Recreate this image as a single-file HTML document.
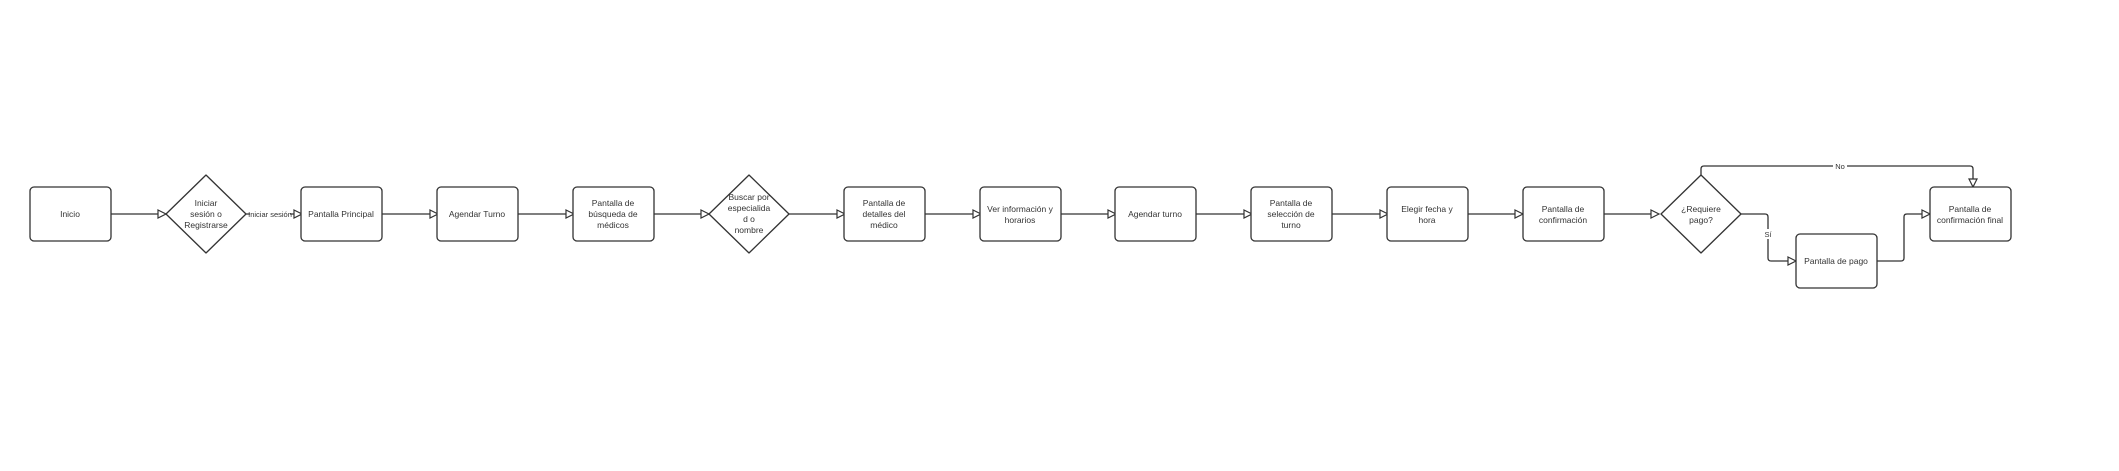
<!DOCTYPE html>
<html><head><meta charset="utf-8"><style>
html,body{margin:0;padding:0;background:#fff;}
svg{display:block;}
text{font-family:"Liberation Sans",sans-serif;font-size:8.5px;fill:#333;text-anchor:middle;}
.b{fill:#fff;stroke:#333;stroke-width:1.3;}
.l{fill:none;stroke:#333;stroke-width:1.3;}
.a{fill:#fff;stroke:#333;stroke-width:1.2;}
</style></head><body>
<svg width="2119" height="471" viewBox="0 0 2119 471" xmlns="http://www.w3.org/2000/svg">
<!-- edges -->
<g class="l">
<line x1="111" y1="214" x2="158" y2="214"/>
<line x1="246" y1="214" x2="294" y2="214"/>
<line x1="382" y1="214" x2="430" y2="214"/>
<line x1="518" y1="214" x2="566" y2="214"/>
<line x1="654" y1="214" x2="701" y2="214"/>
<line x1="789" y1="214" x2="837" y2="214"/>
<line x1="925" y1="214" x2="973" y2="214"/>
<line x1="1061" y1="214" x2="1108" y2="214"/>
<line x1="1196" y1="214" x2="1244" y2="214"/>
<line x1="1332" y1="214" x2="1380" y2="214"/>
<line x1="1468" y1="214" x2="1515" y2="214"/>
<line x1="1604" y1="214" x2="1651" y2="214"/>
<path d="M1701 175 V169 Q1701 166 1704 166 H1970 Q1973 166 1973 169 V179"/>
<path d="M1741 214 H1765 Q1768 214 1768 217 V258 Q1768 261 1771 261 H1788"/>
<path d="M1877 261 H1901 Q1904 261 1904 258 V217 Q1904 214 1907 214 H1922"/>
</g>
<g class="a">
<polygon points="158,210 166,214 158,218"/>
<polygon points="294,210 302,214 294,218"/>
<polygon points="430,210 438,214 430,218"/>
<polygon points="566,210 574,214 566,218"/>
<polygon points="701,210 709,214 701,218"/>
<polygon points="837,210 845,214 837,218"/>
<polygon points="973,210 981,214 973,218"/>
<polygon points="1108,210 1116,214 1108,218"/>
<polygon points="1244,210 1252,214 1244,218"/>
<polygon points="1380,210 1388,214 1380,218"/>
<polygon points="1515,210 1523,214 1515,218"/>
<polygon points="1651,210 1659,214 1651,218"/>
<polygon points="1969,179 1977,179 1973,187"/>
<polygon points="1788,257 1796,261 1788,265"/>
<polygon points="1922,210 1930,214 1922,218"/>
</g>
<rect x="250" y="208" width="40" height="11" fill="#fff"/>
<text x="270" y="217" style="font-size:7.5px">Iniciar sesión</text>
<rect x="1833" y="161" width="14" height="10" fill="#fff"/>
<text x="1840" y="169" style="font-size:7.5px">No</text>
<rect x="1763" y="229" width="10" height="10" fill="#fff"/>
<text x="1768" y="237" style="font-size:7.5px">Sí</text>
<!-- boxes -->
<g class="b">
<rect x="30" y="187" width="81" height="54" rx="4"/>
<rect x="301" y="187" width="81" height="54" rx="4"/>
<rect x="437" y="187" width="81" height="54" rx="4"/>
<rect x="573" y="187" width="81" height="54" rx="4"/>
<rect x="844" y="187" width="81" height="54" rx="4"/>
<rect x="980" y="187" width="81" height="54" rx="4"/>
<rect x="1115" y="187" width="81" height="54" rx="4"/>
<rect x="1251" y="187" width="81" height="54" rx="4"/>
<rect x="1387" y="187" width="81" height="54" rx="4"/>
<rect x="1523" y="187" width="81" height="54" rx="4"/>
<rect x="1930" y="187" width="81" height="54" rx="4"/>
<rect x="1796" y="234" width="81" height="54" rx="4"/>
<path d="M206 175 L246 214 L206 253 L166 214 Z" stroke-linejoin="round"/>
<path d="M749 175 L789 214 L749 253 L709 214 Z" stroke-linejoin="round"/>
<path d="M1701 175 L1741 214 L1701 253 L1661 214 Z" stroke-linejoin="round"/>
</g>
<text x="70" y="217">Inicio</text>
<text x="206" y="206">Iniciar</text><text x="206" y="217">sesión o</text><text x="206" y="228">Registrarse</text>
<text x="341" y="217">Pantalla Principal</text>
<text x="477" y="217">Agendar Turno</text>
<text x="613" y="206">Pantalla de</text><text x="613" y="217">búsqueda de</text><text x="613" y="228">médicos</text>
<text x="749" y="200">Buscar por</text><text x="749" y="211">especialida</text><text x="749" y="222">d o</text><text x="749" y="233">nombre</text>
<text x="884" y="206">Pantalla de</text><text x="884" y="217">detalles del</text><text x="884" y="228">médico</text>
<text x="1020" y="212">Ver información y</text><text x="1020" y="223">horarios</text>
<text x="1155" y="217">Agendar turno</text>
<text x="1291" y="206">Pantalla de</text><text x="1291" y="217">selección de</text><text x="1291" y="228">turno</text>
<text x="1427" y="212">Elegir fecha y</text><text x="1427" y="223">hora</text>
<text x="1563" y="212">Pantalla de</text><text x="1563" y="223">confirmación</text>
<text x="1701" y="212">¿Requiere</text><text x="1701" y="223">pago?</text>
<text x="1836" y="264">Pantalla de pago</text>
<text x="1970" y="212">Pantalla de</text><text x="1970" y="223">confirmación final</text>
</svg>
</body></html>
